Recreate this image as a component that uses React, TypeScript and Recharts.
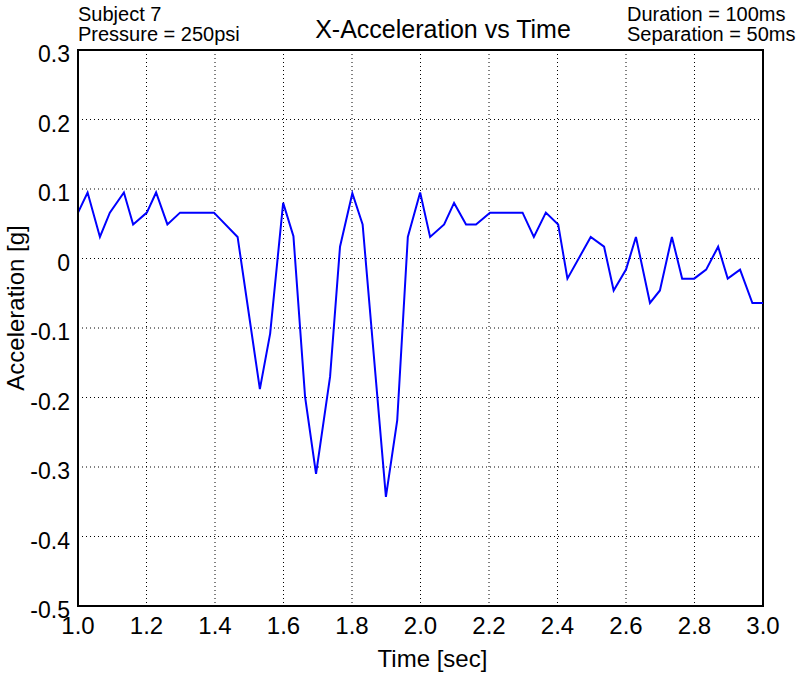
import {
  CartesianGrid,
  Line,
  LineChart,
  ReferenceArea,
  XAxis,
  YAxis,
} from 'recharts';

const timeSec = [
  1.0, 1.028, 1.064, 1.093, 1.134, 1.161, 1.201, 1.228, 1.261, 1.298,
  1.397, 1.466, 1.531, 1.561, 1.599, 1.629, 1.663, 1.695, 1.736, 1.765,
  1.801, 1.831, 1.899, 1.932, 1.963, 1.999, 2.028, 2.069, 2.098, 2.133,
  2.162, 2.203, 2.298, 2.331, 2.366, 2.402, 2.429, 2.497, 2.536, 2.564,
  2.6, 2.629, 2.67, 2.699, 2.734, 2.764, 2.799, 2.834, 2.869, 2.897,
  2.933, 2.969, 3.0,
];

const accelG = [
  0.066, 0.095, 0.031, 0.066, 0.095, 0.049, 0.066, 0.095, 0.049, 0.066,
  0.066, 0.031, -0.188, -0.108, 0.08, 0.032, -0.199, -0.31, -0.17, 0.017,
  0.094, 0.049, -0.343, -0.233, 0.031, 0.095, 0.031, 0.049, 0.08, 0.049,
  0.049, 0.066, 0.066, 0.031, 0.066, 0.049, -0.029, 0.031, 0.017, -0.046,
  -0.016, 0.031, -0.064, -0.046, 0.031, -0.029, -0.029, -0.016, 0.017, -0.029,
  -0.016, -0.064, -0.064,
];

const xTicks = [1.0, 1.2, 1.4, 1.6, 1.8, 2.0, 2.2, 2.4, 2.6, 2.8, 3.0];
const yTicks = [0.3, 0.2, 0.1, 0, -0.1, -0.2, -0.3, -0.4, -0.5];

const data = timeSec.map((t, i) => ({ t, a: accelG[i] }));

const font = 'Arial, "Liberation Sans", Helvetica, sans-serif';

const fmtY = (v: number) => (v === 0 ? '0' : String(Math.round(v * 10) / 10));

export default function App() {
  return (
    <div
      style={{
        position: 'absolute',
        left: 0,
        top: 0,
        width: 803,
        height: 673,
        background: '#fff',
        fontFamily: font,
      }}
    >
      <LineChart
        width={803}
        height={673}
        data={data}
        margin={{ top: 50, right: 40, left: 0, bottom: 0 }}
      >
        <CartesianGrid stroke="#000" strokeDasharray="1 3" />
        <XAxis
          dataKey="t"
          type="number"
          domain={[1, 3]}
          ticks={xTicks}
          tickFormatter={(v: number) => v.toFixed(1)}
          tickLine={false}
          axisLine={{ stroke: '#000', strokeWidth: 2 }}
          tick={{ fill: '#000', fontSize: 24, fontFamily: font }}
          tickMargin={5}
          height={67}
          interval={0}
          label={{
            value: 'Time [sec]',
            position: 'insideBottom',
            offset: 6,
            dx: 12,
            fill: '#000',
            fontSize: 24,
            fontFamily: font,
          }}
        />
        <YAxis
          type="number"
          domain={[-0.5, 0.3]}
          ticks={yTicks}
          tickFormatter={fmtY}
          tickLine={false}
          axisLine={{ stroke: '#000', strokeWidth: 2 }}
          tick={{ fill: '#000', fontSize: 23, fontFamily: font, dy: 4 }}
          tickMargin={2}
          width={78}
          interval={0}
          allowDataOverflow
          label={{
            value: 'Acceleration [g]',
            angle: -90,
            position: 'insideLeft',
            offset: 15,
            dy: -20,
            fill: '#000',
            fontSize: 24,
            fontFamily: font,
            style: { textAnchor: 'middle' },
          }}
        />
        <ReferenceArea
          x1={1}
          x2={3}
          y1={-0.5}
          y2={0.3}
          fill="none"
          stroke="#000"
          strokeWidth={2}
        />
        <Line
          type="linear"
          dataKey="a"
          stroke="#0000ff"
          strokeWidth={2}
          dot={false}
          isAnimationActive={false}
        />
      </LineChart>
      <div style={{ position: 'absolute', left: 78, top: 4, fontSize: 20, lineHeight: '20px', color: '#000', whiteSpace: 'nowrap' }}>
        Subject 7
        <br />
        Pressure = 250psi
      </div>
      <div style={{ position: 'absolute', left: 300, top: 14, width: 286, textAlign: 'center', fontSize: 25, lineHeight: '30px', color: '#000' }}>
        X-Acceleration vs Time
      </div>
      <div style={{ position: 'absolute', left: 627, top: 4, fontSize: 20, lineHeight: '20px', color: '#000', whiteSpace: 'nowrap' }}>
        Duration = 100ms
        <br />
        Separation = 50ms
      </div>
    </div>
  );
}
